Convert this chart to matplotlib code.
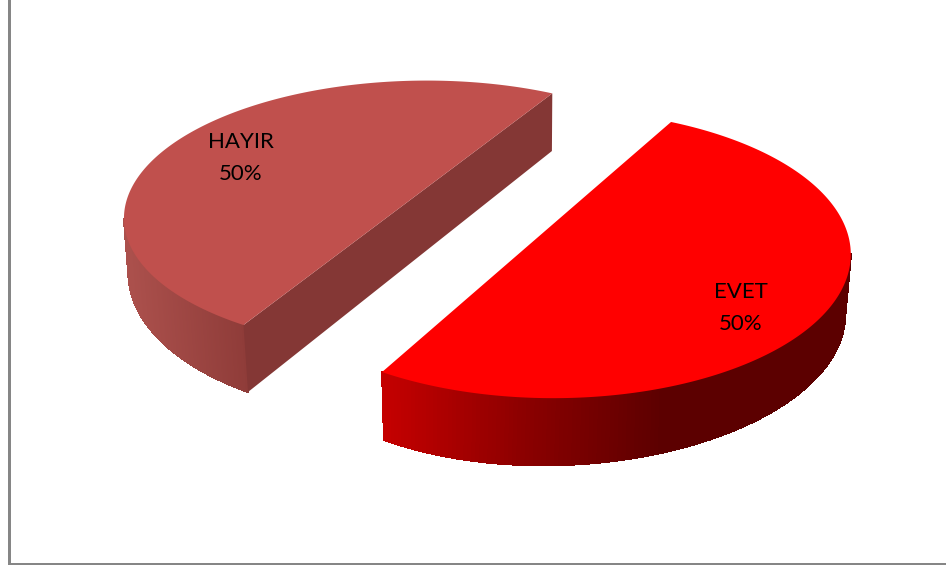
import numpy as np
import matplotlib
matplotlib.use('Agg')
import matplotlib.pyplot as plt
from matplotlib.collections import PolyCollection
from matplotlib.colors import LinearSegmentedColormap

categories = ['EVET', 'HAYIR']
values = [50, 50]
top_colors = ['#ff0000', '#c0504d']

# projected circles: centre, u, v, and perspective terms a, b
top_rims = [
    ((546.1, 230.1), (215.8, -91.6), (203.2, 44.6), 0.1354, -0.0992),
    ((370.3, 229.9), (83.3, -153.2), (-211.9, -48.1), -0.1787, 0.0865),
]
low_rims = [
    ((556.7, 289.5), (251.0, -60.8), (164.9, 20.1), 0.2037, -0.1332),
    ((381.2, 286.4), (102.6, -154.0), (-222.1, -76.4), -0.1234, 0.0105),
]
label_pos = [(741, 308), (241, 157.5)]

wall_maps = [
    LinearSegmentedColormap.from_list('evet', ['#c40000', '#8c0000', '#5c0000', '#5c0000']),
    LinearSegmentedColormap.from_list('hayir', ['#ab504c', '#8f3c39']),
]
x_span = [(384, 800), (130, 245)]


def rim(params, t):
    c, u, v, a, b = params
    w = 1 + a * np.cos(t) + b * np.sin(t)
    return np.column_stack([(c[0] + u[0] * np.cos(t) + v[0] * np.sin(t)) / w,
                            (c[1] + u[1] * np.cos(t) + v[1] * np.sin(t)) / w])


def visible_part(params, t, side):
    # from the outermost point of the rim down to the end of the slice
    pts = rim(params, t)
    start = np.argmax(pts[:, 0]) if side == 0 else np.argmin(pts[:, 0])
    keep = np.linspace(t[start], t[-1], 160)
    return rim(params, keep)


fig = plt.figure(figsize=(9.46, 5.67), dpi=100)
ax = fig.add_axes([0, 0, 1, 1])
ax.set_xlim(0, 946)
ax.set_ylim(567, 0)
ax.axis('off')

for i in range(len(values)):
    # every slice is measured from its own first edge
    sweep = 2 * np.pi * values[i] / sum(values)
    t = np.linspace(0, sweep, 361)

    upper = visible_part(top_rims[i], t, i)
    lower = visible_part(low_rims[i], t, i)
    quads = [[upper[k], upper[k + 1], lower[k + 1], lower[k]] for k in range(len(upper) - 1)]
    mid = (upper[:-1, 0] + upper[1:, 0]) / 2
    shade = wall_maps[i](np.clip((mid - x_span[i][0]) / (x_span[i][1] - x_span[i][0]), 0, 1))
    ax.add_collection(PolyCollection(quads, facecolors=shade, edgecolors=shade,
                                     linewidths=0.6, antialiaseds=False, zorder=1))

    # cut face of the slice
    if categories[i] == 'HAYIR':
        ends = np.array([0, sweep])
        chord_top = rim(top_rims[i], ends)
        chord_low = rim(low_rims[i], ends)
        ax.fill([chord_top[0, 0], chord_top[1, 0], chord_low[1, 0], chord_low[0, 0]],
                [chord_top[0, 1], chord_top[1, 1], chord_low[1, 1], chord_low[0, 1]],
                color='#843735', lw=0, zorder=2)

    face = rim(top_rims[i], t)
    ax.fill(face[:, 0], face[:, 1], color=top_colors[i], lw=0, zorder=3)

    pct = values[i] / sum(values) * 100
    ax.text(label_pos[i][0], label_pos[i][1], f'{categories[i]}\n{pct:.0f}%',
            family=['Lato', 'DejaVu Sans'], fontsize=16, color='black',
            ha='center', va='center', linespacing=1.75, zorder=4)

# chart area border
ax.axvspan(8, 11, ymin=2 / 567, ymax=1, color='#868686', lw=0, zorder=5)
ax.axhspan(563, 565, xmin=8 / 946, xmax=1, color='#868686', lw=0, zorder=5)

fig.savefig('out.png', dpi=100, facecolor='white')
